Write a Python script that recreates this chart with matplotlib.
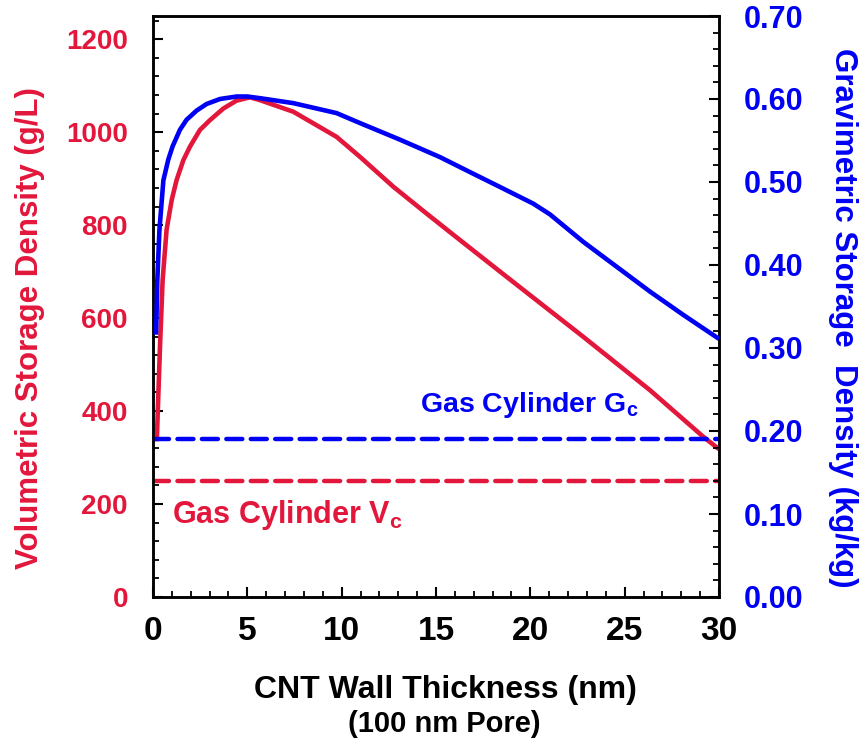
import matplotlib
matplotlib.use("Agg")
import matplotlib.pyplot as plt
from matplotlib.ticker import MultipleLocator

plt.rcParams['font.family'] = ['Liberation Sans', 'DejaVu Sans']
plt.rcParams['font.weight'] = 'bold'
plt.rcParams['mathtext.fontset'] = 'custom'
plt.rcParams['mathtext.rm'] = 'Liberation Sans:bold'
plt.rcParams['mathtext.it'] = 'Liberation Sans:bold'
plt.rcParams['mathtext.bf'] = 'Liberation Sans:bold'

RED = '#E2173B'
BLUE = '#0000F5'

# Volumetric storage density (g/L) vs CNT wall thickness (nm)
wall_v = [0.2, 0.28, 0.37, 0.51, 0.72, 0.99, 1.25, 1.61, 1.96, 2.49, 3.02, 3.73,
          4.43, 5.14, 5.67, 7.44, 9.73, 10.97, 12.73, 14.5, 16.27, 18.74,
          22.8, 26.34, 29.16, 30.0]
vol_density = [335, 431, 538, 682, 790, 854, 897, 940, 969, 1005, 1026, 1051,
               1068, 1075, 1069, 1044, 990, 947, 883, 825, 768, 689,
               560, 445, 345, 318]

# Gravimetric storage density (kg/kg) vs CNT wall thickness (nm)
wall_g = [0.16, 0.19, 0.23, 0.34, 0.55, 0.81, 1.04, 1.43, 1.78, 2.31, 2.84, 3.55,
          4.43, 5.0, 5.67, 7.44, 9.73, 10.97, 13.09, 15.21, 16.97, 18.39,
          20.15, 21.04, 22.8, 24.57, 26.34, 28.1, 30.0]
grav_density = [0.316, 0.342, 0.382, 0.442, 0.502, 0.527, 0.543, 0.563, 0.575,
                0.586, 0.594, 0.600, 0.603, 0.603, 0.601, 0.595, 0.583, 0.571,
                0.551, 0.530, 0.510, 0.494, 0.474, 0.461, 0.428, 0.398,
                0.368, 0.340, 0.311]

gas_cyl_vc = 250     # g/L
gas_cyl_gc = 0.19    # kg/kg

fig = plt.figure(figsize=(8.63, 7.42), dpi=100)
ax = fig.add_axes([153/863, 1-597/742, (719-153)/863, (597-16)/742])
ax2 = ax.twinx()

ax.plot(wall_v, vol_density, color=RED, lw=3.3, solid_capstyle='butt',
        solid_joinstyle='round', zorder=3)
ax2.plot(wall_g, grav_density, color=BLUE, lw=3.3, solid_capstyle='butt',
         solid_joinstyle='round', zorder=3)
ax.axhline(gas_cyl_vc, color=RED, lw=3.2, dashes=(3.6, 1.9), dash_capstyle='round')
ax2.axhline(gas_cyl_gc, color=BLUE, lw=3.2, dashes=(3.6, 1.9), dash_capstyle='round')

ax.set_xlim(0, 30)
ax.set_ylim(0, 1250)
ax2.set_ylim(0, 0.70)

ax.xaxis.set_major_locator(MultipleLocator(5))
ax.xaxis.set_minor_locator(MultipleLocator(1))
ax.yaxis.set_major_locator(MultipleLocator(200))
ax.yaxis.set_minor_locator(MultipleLocator(40))
ax2.yaxis.set_major_locator(MultipleLocator(0.1))
ax2.yaxis.set_minor_locator(MultipleLocator(0.02))
ax2.yaxis.set_major_formatter(plt.FuncFormatter(lambda v, p: f"{v:.2f}"))

for a in (ax, ax2):
    for s in a.spines.values():
        s.set_linewidth(1.8)

ax.tick_params(axis='x', which='major', direction='in', length=7, width=1.5,
               labelsize=24, pad=14, colors='black', top=False)
ax.tick_params(axis='x', which='minor', direction='in', length=4.5, width=1.3, top=False)
ax.tick_params(axis='y', which='major', direction='in', length=7, width=1.5,
               labelsize=20, pad=18, labelcolor=RED, right=False)
ax.tick_params(axis='y', which='minor', direction='in', length=4.5, width=1.3, right=False)
ax2.tick_params(axis='y', which='major', direction='in', length=7, width=1.5,
                labelsize=22, pad=18, labelcolor=BLUE)
ax2.tick_params(axis='y', which='minor', direction='in', length=4.5, width=1.3)

for lbl in ax.get_xticklabels() + ax.get_yticklabels() + ax2.get_yticklabels():
    lbl.set_fontweight('bold')

ax2.text(14.15, 0.231, r'Gas Cylinder G$_{\mathrm{c}}$', color=BLUE, fontsize=20.5,
         fontweight='bold', ha='left', va='center')
ax.text(1.0, 176, r'Gas Cylinder V$_{\mathrm{c}}$', color=RED, fontsize=22,
        fontweight='bold', ha='left', va='center')

fig.text(445/863, 1-690/742, 'CNT Wall Thickness (nm)', fontsize=23, fontweight='bold',
         ha='center', va='center', color='black')
fig.text(444/863, 1-724/742, '(100 nm Pore)', fontsize=21, fontweight='bold',
         ha='center', va='center', color='black')
fig.text(30/863, 1-328/742, 'Volumetric Storage Density (g/L)', fontsize=22.5,
         fontweight='bold', rotation=90, ha='center', va='center', color=RED)
fig.text(843/863, 1-318/742, 'Gravimetric Storage  Density (kg/kg)', fontsize=22.5,
         fontweight='bold', rotation=270, ha='center', va='center', color=BLUE)

fig.savefig('out.png', dpi=100)
